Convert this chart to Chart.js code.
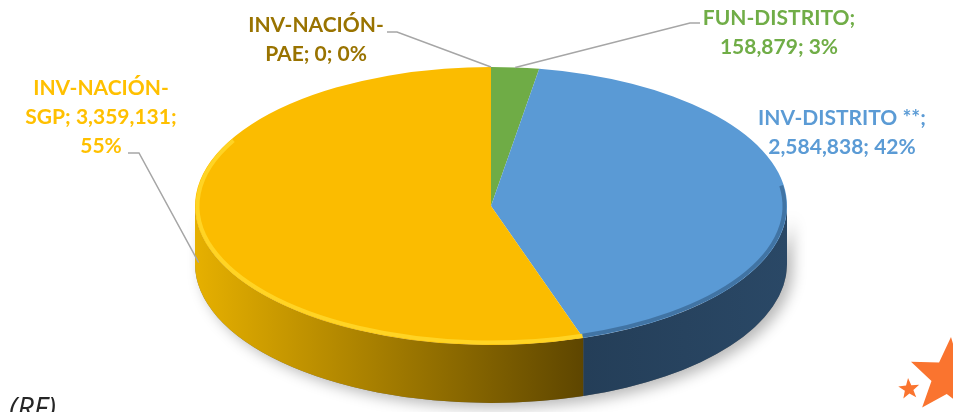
<!DOCTYPE html>
<html>
<head>
<meta charset="utf-8">
<script src="https://cdn.jsdelivr.net/npm/chart.js@4.4.1/dist/chart.umd.min.js"></script>
<style>
  html, body { margin: 0; padding: 0; background: #fff; }
  canvas { display: block; }
</style>
</head>
<body>
<canvas id="myChart" width="953" height="412"></canvas>
<script>
// data, clockwise from 12 o'clock
const categories = ['FUN-DISTRITO', 'INV-DISTRITO **', 'INV-NACIÓN-SGP', 'INV-NACIÓN-PAE'];
const values = [158879, 2584838, 3359131, 0];

const topColors = ['#6fac46', '#5a9ad5', '#fbbc00', '#bf9000'];
const sideColors = [['#3f6b26', '#3f6b26'], ['#243e58', '#2a4866'], ['#e6b000', '#5e4600'], ['#7f6000', '#7f6000']];
const labelColors = ['#70ad47', '#5b9bd5', '#ffc000', '#997300'];

// where the ellipse of the pie sits on the page
const GEO = { cx: 491, cy: 206, rx: 296, ry: 139, depth: 58 };

// label boxes: centre x, first line y, wrap width, leader line (label end, elbow)
const labelLayout = [
  { x: 779, y: 18, w: 170, line: [[700, 23], [690, 23]] },
  { x: 842, y: 118, w: 190, line: null },
  { x: 101, y: 88, w: 170, line: [[128, 153], [139, 153]], low: true },
  { x: 316, y: 25, w: 170, line: [[387, 32], [397, 32]] }
];

const total = values.reduce((a, b) => a + b, 0);

function wallPath(ctx, lo, hi) {
  const { cx, cy, rx, ry, depth } = GEO;
  ctx.beginPath();
  ctx.ellipse(cx, cy, rx, ry, 0, lo, hi);
  ctx.ellipse(cx, cy + depth, rx, ry, 0, hi, lo, true);
  ctx.closePath();
}

// pieces of [s, e] that fall in [from, to] (mod 2pi)
function parts(s, e, from, to) {
  const out = [];
  for (let k = -1; k <= 2; k++) {
    const lo = Math.max(s, 2 * Math.PI * k + from);
    const hi = Math.min(e, 2 * Math.PI * k + to);
    if (hi > lo) out.push([lo, hi]);
  }
  return out;
}

function wrap(ctx, text, maxW) {
  const tokens = text.match(/[^ -]+[ -]?/g);
  const lines = [];
  let cur = '';
  tokens.forEach(t => {
    const test = cur + t;
    if (cur && ctx.measureText(test.trim()).width > maxW) {
      lines.push(cur.trim());
      cur = t;
    } else cur = test;
  });
  if (cur) lines.push(cur.trim());
  return lines;
}

const pie3d = {
  id: 'pie3d',
  beforeDatasetsDraw(chart) {
    const ctx = chart.ctx;
    const arcs = chart.getDatasetMeta(0).data;
    const { cx, cy, rx, ry } = GEO;

    // soft shadow under the disc
    ctx.save();
    ctx.shadowColor = 'rgba(0,0,0,0.28)';
    ctx.shadowBlur = 14;
    ctx.shadowOffsetX = 6;
    ctx.shadowOffsetY = 5;
    wallPath(ctx, 0, Math.PI);
    ctx.fillStyle = '#777';
    ctx.fill();
    ctx.restore();

    // side walls
    arcs.forEach((el, i) => {
      parts(el.startAngle, el.endAngle, 0, Math.PI).forEach(([lo, hi]) => {
        const x1 = cx + rx * Math.cos(hi), x2 = cx + rx * Math.cos(lo);
        const g = ctx.createLinearGradient(Math.min(x1, x2), 0, Math.max(x1, x2), 0);
        g.addColorStop(0, sideColors[i][0]);
        g.addColorStop(1, sideColors[i][1]);
        wallPath(ctx, lo, hi);
        ctx.fillStyle = g;
        ctx.fill();
      });
    });

    // squash the library's round pie into the ellipse for the top face
    const a = arcs[0];
    ctx.save();
    ctx.translate(cx, cy);
    ctx.scale(rx / a.outerRadius, ry / a.outerRadius);
    ctx.translate(-a.x, -a.y);
  },
  afterDatasetsDraw(chart) {
    const ctx = chart.ctx;
    ctx.restore();
    const arcs = chart.getDatasetMeta(0).data;
    const { cx, cy, rx, ry, depth } = GEO;

    // rim shading along the front edge
    ctx.save();
    arcs.forEach((el, i) => {
      parts(el.startAngle, el.endAngle, -0.15, Math.PI + 0.5).forEach(([lo, hi]) => {
        ctx.beginPath();
        ctx.ellipse(cx, cy, rx - 2.5, ry - 2.5, 0, lo, hi);
        ctx.lineWidth = 4;
        ctx.strokeStyle = i === 2 ? 'rgba(255,214,40,0.9)' : 'rgba(20,45,75,0.35)';
        ctx.stroke();
      });
    });
    ctx.restore();

    // labels + leader lines
    ctx.save();
    ctx.font = 'bold 21px Lato';
    ctx.textAlign = 'center';
    ctx.textBaseline = 'middle';
    arcs.forEach((el, i) => {
      const lay = labelLayout[i];
      const pct = Math.round(values[i] / total * 100);
      const text = categories[i] + '; ' + values[i].toLocaleString('en-US') + '; ' + pct + '%';
      const lines = wrap(ctx, text, lay.w);
      ctx.fillStyle = labelColors[i];
      lines.forEach((l, k) => ctx.fillText(l, lay.x, lay.y + k * 29));

      if (lay.line) {
        const mid = (el.startAngle + el.endAngle) / 2;
        let ax = cx + rx * Math.cos(mid);
        let ay = cy + ry * Math.sin(mid);
        if (lay.low) ay += depth * 0.6;
        ctx.beginPath();
        ctx.moveTo(lay.line[0][0], lay.line[0][1]);
        ctx.lineTo(lay.line[1][0], lay.line[1][1]);
        ctx.lineTo(ax, ay);
        ctx.strokeStyle = '#a6a6a6';
        ctx.lineWidth = 1.5;
        ctx.stroke();
      }
    });
    ctx.restore();
  },
  afterDraw(chart) {
    const ctx = chart.ctx;
    ctx.save();
    ctx.font = 'italic 29px "Open Sans"';
    ctx.fillStyle = '#262626';
    ctx.textBaseline = 'alphabetic';
    ctx.fillText('(RF)', 9, 418);

    // orange stars in the corner
    const star = (x, y, R, r, rot) => {
      ctx.beginPath();
      for (let k = 0; k < 10; k++) {
        const ang = rot + k * Math.PI / 5;
        const rad = k % 2 ? r : R;
        ctx.lineTo(x + rad * Math.cos(ang), y + rad * Math.sin(ang));
      }
      ctx.closePath();
      ctx.fillStyle = '#fa742f';
      ctx.fill();
    };
    star(948, 377, 40, 17, -157.7 * Math.PI / 180);
    star(909, 389, 11, 4.5, -95 * Math.PI / 180);
    ctx.restore();
  }
};

const ctx = document.getElementById('myChart');
new Chart(ctx, {
  type: 'pie',
  data: {
    labels: categories,
    datasets: [{
      data: values,
      backgroundColor: topColors,
      borderWidth: 0,
      clip: false
    }]
  },
  options: {
    responsive: false,
    animation: false,
    devicePixelRatio: 1,
    plugins: { legend: { display: false }, tooltip: { enabled: false } }
  },
  plugins: [pie3d]
});
</script>
</body>
</html>
